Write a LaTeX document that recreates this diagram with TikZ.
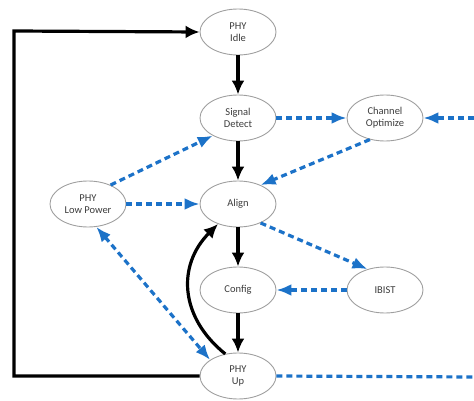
\documentclass[tikz,border=0pt]{standalone}
\usepackage{fontspec}
\setmainfont{Carlito}
\usetikzlibrary{arrows.meta,shapes.geometric}
\definecolor{linkblue}{RGB}{28,114,200}
\definecolor{textgray}{RGB}{60,60,60}

\begin{document}
\begin{tikzpicture}[x=1pt,y=1pt,node distance=86pt,
    state/.style={draw=gray!75,line width=0.9pt,ellipse,minimum width=76pt,minimum height=46pt,
      inner sep=0pt,align=center,text=textgray,font=\fontsize{10.5}{12}\selectfont},
    flow/.style={line width=3.2pt,-{Latex[length=14pt,width=13pt]}},
    side/.style={linkblue,line width=3.2pt,dash pattern=on 6pt off 4pt,-{Latex[length=15pt,width=12pt]}}]
    \useasboundingbox (0,0) rectangle (474,-401);
    % main chain
    \node [state] (idle) at (238,-32) {PHY\\Idle};
    \node [state,below of=idle] (sig) {Signal\\Detect};
    \node [state,below of=sig] (align) {Align};
    \node [state,below of=align] (cfg) {Config};
    \node [state,below of=cfg] (up) {PHY\\Up};
    % side states
    \node [state,node distance=147pt,right of=sig] (chan) {Channel\\Optimize};
    \node [state,node distance=147pt,right of=cfg] (ibist) {IBIST};
    \node [state,node distance=150pt,left of=align] (lowp) {PHY\\Low Power};
    \coordinate (loop) at (14,-31);
    \coordinate (edgeup) at (474,-377);
    \coordinate (edgechan) at (474,-118);

    \draw [flow] (idle) -- (sig);
    \draw [flow] (sig) -- (align);
    \draw [flow] (align) -- (cfg);
    \draw [flow] (cfg) -- (up);
    \draw [flow] (up.120) to[bend left=48,looseness=1.15] (align.225);
    \draw [flow] (up.west) -| (loop) -- (idle.west);

    \draw [side] (sig) -- (chan);
    \draw [side] (chan.235) -- (align.40);
    \draw [side] (lowp.40) -- (sig.215);
    \draw [side] (lowp) -- (align);
    \draw [side] (align.320) -- (ibist.130);
    \draw [side] (ibist) -- (cfg);
    \draw [side,{Latex[length=15pt,width=12pt]}-{Latex[length=15pt,width=12pt]}] (lowp.290) -- (up.150);
    \draw [side,-] (up.east) -- (edgeup);
    \draw [side] (edgechan) -- (chan.east);
\end{tikzpicture}
\end{document}
